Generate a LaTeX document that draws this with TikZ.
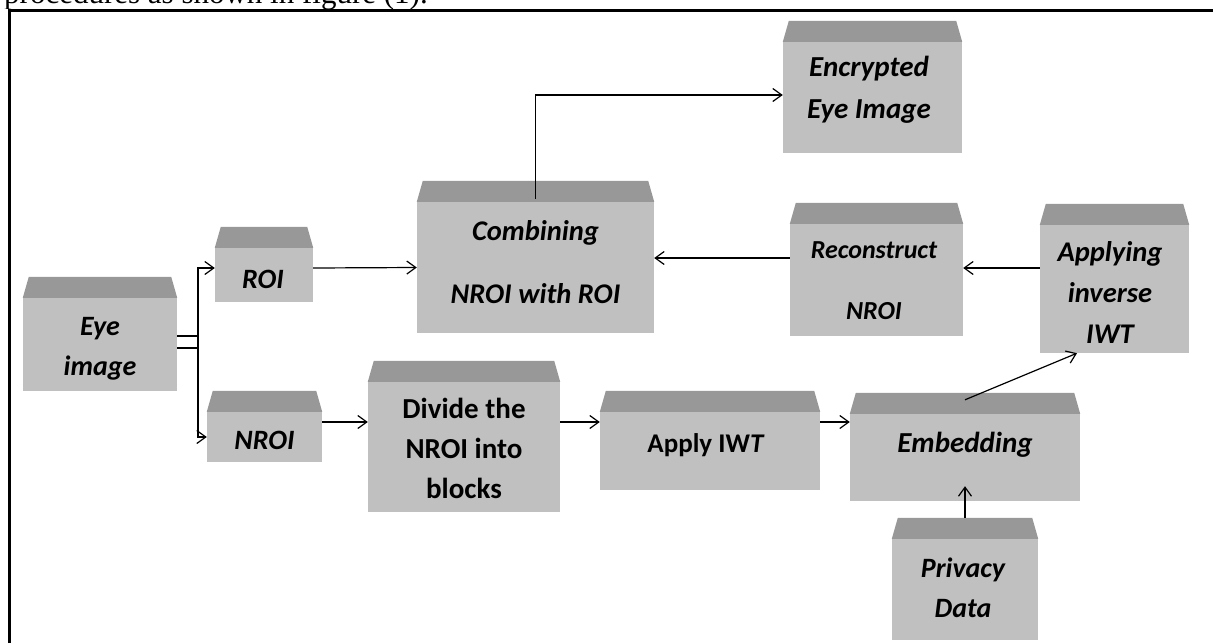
\documentclass[tikz,border=0pt]{standalone}
\usepackage{fontspec}
\setmainfont{Liberation Serif}
\newfontfamily\boxfont{Carlito}
\usetikzlibrary{arrows.meta}
\definecolor{bodygray}{RGB}{192,192,192}
\definecolor{capgray}{RGB}{152,152,152}
% trapezoid lid sitting on top of a box body
\newcommand\slablid[1]{%
  \fill[capgray] (#1.north west) -- ([xshift=6pt,yshift=21pt]#1.north west)
    -- ([xshift=-6pt,yshift=21pt]#1.north east) -- (#1.north east) -- cycle;}
\begin{document}
\begin{tikzpicture}[x=1pt,y=-1pt,
  slab/.style={rectangle, fill=bodygray, inner sep=0pt},
  lbl/.style={anchor=base, align=center, inner sep=0pt, font=\boxfont\bfseries\itshape},
  arr/.style={line width=1.2pt, -{Straight Barb[length=9pt,width=13pt,line width=1.2pt]}},
  link/.style={line width=1.2pt}]
\useasboundingbox (0,0) rectangle (1213,643);

% caption line running above the frame
\begin{scope}
  \clip (0,0) rectangle (1213,8);
  \node[anchor=base west, inner sep=0pt, font=\fontsize{31pt}{36pt}\selectfont] (cap) at (4,3) {procedures as shown in figure (1).};
\end{scope}

% frame
\draw[line width=3pt] (9,643) -- (9,10.5) -- (1213,10.5);

% box bodies
\node[slab, minimum width=154pt, minimum height=93pt]  (eye)  at (100,344.5) {};
\node[slab, minimum width=98pt,  minimum height=54pt]  (roi)  at (264,275) {};
\node[slab, minimum width=115pt, minimum height=50pt]  (nroi) at (264.5,437) {};
\node[slab, minimum width=192pt, minimum height=130pt] (div)  at (464,447) {};
\node[slab, minimum width=220pt, minimum height=78pt]  (iwt)  at (710,451) {};
\node[slab, minimum width=230pt, minimum height=87pt]  (emb)  at (965,457.5) {};
\node[slab, minimum width=146pt, minimum height=101pt] (priv) at (965,589.5) {};
\node[slab, minimum width=149pt, minimum height=128pt] (inv)  at (1114.5,289) {};
\node[slab, minimum width=173pt, minimum height=112pt] (rec)  at (876.5,280) {};
\node[slab, minimum width=237pt, minimum height=131pt] (comb) at (535.5,267.5) {};
\node[slab, minimum width=179pt, minimum height=111pt] (enc)  at (872.5,97.5) {};

\foreach \b in {eye,roi,nroi,div,iwt,emb,priv,inv,rec,comb,enc} {\slablid{\b}}

% box labels (each anchored at the baseline of its last line)
\node[lbl, font=\boxfont\bfseries\itshape\fontsize{28pt}{40pt}\selectfont] (eye-t) at (100,375) {Eye\\image};
\node[lbl, font=\boxfont\bfseries\itshape\fontsize{28pt}{32pt}\selectfont] (roi-t) at (263,288) {ROI};
\node[lbl, font=\boxfont\bfseries\itshape\fontsize{28pt}{32pt}\selectfont] (nroi-t) at (264.5,449) {NROI};
\node[lbl, font=\boxfont\bfseries\fontsize{29pt}{40pt}\selectfont] (div-t) at (464,498) {Divide the\\NROI into\\blocks};
\node[lbl, font=\boxfont\bfseries\fontsize{27pt}{32pt}\selectfont] (iwt-t) at (706,452) {Apply IW\textit{T}};
\node[lbl, font=\boxfont\bfseries\itshape\fontsize{29pt}{32pt}\selectfont] (emb-t) at (965,452) {Embedding};
\node[lbl, font=\boxfont\bfseries\itshape\fontsize{28pt}{40pt}\selectfont] (priv-t) at (963,617) {Privacy\\Data};
\node[lbl, font=\boxfont\bfseries\itshape\fontsize{28.5pt}{41pt}\selectfont] (inv-t) at (1110,343) {Applying\\inverse\\IWT};
\node[lbl, font=\boxfont\bfseries\itshape\fontsize{26pt}{61pt}\selectfont] (rec-t) at (874,319) {Reconstruct\\NROI};
\node[lbl, font=\boxfont\bfseries\itshape\fontsize{28.5pt}{63pt}\selectfont] (comb-t) at (535.5,303) {Combining\\NROI with ROI};
\node[lbl, font=\boxfont\bfseries\itshape\fontsize{29pt}{42pt}\selectfont] (enc-t) at (869,118) {Encrypted\\Eye Image};

% connectors
\coordinate (fork) at (198,342);
\draw[link] ([yshift=8.5pt]eye.east) -- ([yshift=8.5pt]eye.east -| fork);
\draw[link] ([yshift=-3.5pt]eye.east) -- ([yshift=-3.5pt]eye.east -| fork);
\draw[arr] (fork) |- ([yshift=7pt]roi.west);
\draw[arr] (fork) |- (nroi.west);
\draw[arr] ([yshift=7pt]roi.east) -- (comb.west);
\draw[arr] ([yshift=15pt]nroi.east) -- ([yshift=25pt]div.west);
\draw[arr] ([yshift=25pt]div.east) -- ([yshift=29pt]iwt.west);
\draw[arr] ([yshift=29pt]iwt.east) -- ([yshift=35.5pt]emb.west);
\draw[arr] ([yshift=21pt]priv.north) -- ([yshift=15pt]emb.south);
\draw[arr] ([yshift=14pt]emb.north) -- ([xshift=-37.5pt]inv.south);
\draw[arr] ([yshift=21pt]inv.west) -- ([yshift=12pt]rec.east);
\draw[arr] ([yshift=22pt]rec.west) -- ([yshift=9.5pt]comb.east);
\draw[arr] ([yshift=3pt]comb.north) |- ([yshift=2.5pt]enc.west);
\end{tikzpicture}
\end{document}
